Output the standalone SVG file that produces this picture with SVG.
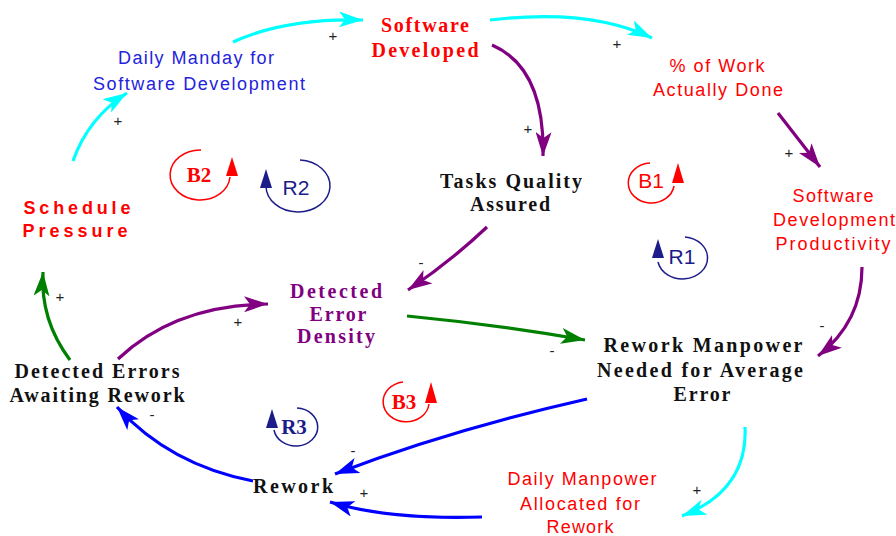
<svg xmlns="http://www.w3.org/2000/svg" width="896" height="536" viewBox="0 0 896 536">
<style>
.sr{font-family:"Liberation Serif","Times New Roman",serif;font-weight:bold;font-size:20px;text-anchor:middle}
.ss{font-family:"Liberation Sans",Arial,sans-serif;font-size:18px;text-anchor:middle}
.lb{font-size:21px}
.pol{font-family:"Liberation Sans",Arial,sans-serif;font-size:15px;text-anchor:middle;fill:#222}
.c{fill:none;stroke-width:3.2;stroke-linecap:butt}
.loop{fill:none;stroke-width:1.5}
</style>
<defs>
<marker id="aCy" markerUnits="userSpaceOnUse" markerWidth="26" markerHeight="16" refX="24" refY="8" orient="auto"><path d="M0,0 L24,8 L0,16 L6,8 Z" fill="#00FFFF"/></marker>
<marker id="aPu" markerUnits="userSpaceOnUse" markerWidth="26" markerHeight="16" refX="24" refY="8" orient="auto"><path d="M0,0 L24,8 L0,16 L6,8 Z" fill="#800080"/></marker>
<marker id="aGr" markerUnits="userSpaceOnUse" markerWidth="26" markerHeight="16" refX="24" refY="8" orient="auto"><path d="M0,0 L24,8 L0,16 L6,8 Z" fill="#008000"/></marker>
<marker id="aBl" markerUnits="userSpaceOnUse" markerWidth="26" markerHeight="16" refX="24" refY="8" orient="auto"><path d="M0,0 L24,8 L0,16 L6,8 Z" fill="#0000FF"/></marker>
</defs>
<rect width="896" height="536" fill="#ffffff"/>

<g id="connectors">
<path class="c" stroke="#00FFFF" marker-end="url(#aCy)" d="M73,161 Q88,118 127,93"/>
<path class="c" stroke="#00FFFF" marker-end="url(#aCy)" d="M233,42 Q285,18 363,20"/>
<path class="c" stroke="#00FFFF" marker-end="url(#aCy)" d="M490,20 Q590,8 652,38"/>
<path class="c" stroke="#800080" marker-end="url(#aPu)" d="M492,45 Q545,68 543,156"/>
<path class="c" stroke="#800080" marker-end="url(#aPu)" d="M778,113 L820,167"/>
<path class="c" stroke="#800080" marker-end="url(#aPu)" d="M862,267 Q862,322 818,356"/>
<path class="c" stroke="#800080" marker-end="url(#aPu)" d="M487,227 Q450,262 408,290"/>
<path class="c" stroke="#008000" marker-end="url(#aGr)" d="M407,316 Q500,325 585,340"/>
<path class="c" stroke="#0000FF" marker-end="url(#aBl)" d="M587,399 Q450,430 335,474"/>
<path class="c" stroke="#0000FF" marker-end="url(#aBl)" d="M482,517 Q390,520 330,502"/>
<path class="c" stroke="#00FFFF" marker-end="url(#aCy)" d="M745,427 Q748,490 682,516"/>
<path class="c" stroke="#0000FF" marker-end="url(#aBl)" d="M253,481 Q170,465 117,407"/>
<path class="c" stroke="#008000" marker-end="url(#aGr)" d="M70,360 Q40,320 43,272"/>
<path class="c" stroke="#800080" marker-end="url(#aPu)" d="M118,359 Q175,305 268,304"/>
<text class="pol" x="118" y="126">+</text>
<text class="pol" x="333" y="41">+</text>
<text class="pol" x="617" y="49">+</text>
<text class="pol" x="528" y="134">+</text>
<text class="pol" x="789" y="158">+</text>
<text class="pol" x="822" y="331">-</text>
<text class="pol" x="421" y="268">-</text>
<text class="pol" x="552" y="356">-</text>
<text class="pol" x="353" y="456">-</text>
<text class="pol" x="364" y="498">+</text>
<text class="pol" x="697" y="495">+</text>
<text class="pol" x="152" y="420">-</text>
<text class="pol" x="60" y="302">+</text>
<text class="pol" x="238" y="327">+</text>
</g>

<g id="software-developed"><text class="sr" fill="#FF0000"><tspan x="425" y="32" textLength="88" lengthAdjust="spacing">Software</tspan><tspan x="425" y="57" textLength="107" lengthAdjust="spacing">Developed</tspan></text></g>
<g id="daily-manday"><text class="ss" fill="#2323DD"><tspan x="196" y="64" textLength="156" lengthAdjust="spacing">Daily Manday for</tspan><tspan x="199" y="90" textLength="212" lengthAdjust="spacing">Software Development</tspan></text></g>
<g id="work-done"><text class="ss" fill="#FF0000"><tspan x="717" y="72" textLength="95" lengthAdjust="spacing">% of Work</tspan><tspan x="718" y="96" textLength="130" lengthAdjust="spacing">Actually Done</tspan></text></g>
<g id="tasks-quality"><text class="sr" fill="#111"><tspan x="511" y="188" textLength="142" lengthAdjust="spacing">Tasks Quality</tspan><tspan x="510" y="211" textLength="80" lengthAdjust="spacing">Assured</tspan></text></g>
<g id="productivity"><text class="ss" fill="#FF0000"><tspan x="833" y="202" textLength="81" lengthAdjust="spacing">Software</tspan><tspan x="834" y="226" textLength="122" lengthAdjust="spacing">Development</tspan><tspan x="833" y="250" textLength="115" lengthAdjust="spacing">Productivity</tspan></text></g>
<g id="schedule-pressure"><text class="ss" fill="#FF0000" font-weight="bold" font-size="21"><tspan x="77" y="214" textLength="107" lengthAdjust="spacing">Schedule</tspan><tspan x="75" y="237" textLength="105" lengthAdjust="spacing">Pressure</tspan></text></g>
<g id="error-density"><text class="sr" fill="#800080"><tspan x="336" y="298" textLength="92" lengthAdjust="spacing">Detected</tspan><tspan x="338" y="321" textLength="57" lengthAdjust="spacing">Error</tspan><tspan x="336" y="343" textLength="78" lengthAdjust="spacing">Density</tspan></text></g>
<g id="errors-awaiting"><text class="sr" fill="#111"><tspan x="97" y="378" textLength="165" lengthAdjust="spacing">Detected Errors</tspan><tspan x="97" y="402" textLength="175" lengthAdjust="spacing">Awaiting Rework</tspan></text></g>
<g id="rework-manpower"><text class="sr" fill="#111"><tspan x="703" y="352" textLength="199" lengthAdjust="spacing">Rework Manpower</tspan><tspan x="700" y="377" textLength="206" lengthAdjust="spacing">Needed for Average</tspan><tspan x="702" y="401" textLength="57" lengthAdjust="spacing">Error</tspan></text></g>
<g id="rework"><text class="sr" fill="#111" x="293" y="493" textLength="80" lengthAdjust="spacing">Rework</text></g>
<g id="daily-manpower"><text class="ss" fill="#FF0000"><tspan x="582" y="485" textLength="149" lengthAdjust="spacing">Daily Manpower</tspan><tspan x="580" y="510" textLength="120" lengthAdjust="spacing">Allocated for</tspan><tspan x="580" y="533" textLength="67" lengthAdjust="spacing">Rework</tspan></text></g>

<g id="loop-B2">
<path class="loop" stroke="#FF0000" d="M201,150 A30,25 0 1 0 230,177"/>
<path d="M232,157 L238,176 L226,176 Z" fill="#FF0000"/>
<text class="sr lb" fill="#FF0000" x="199" y="182">B2</text>
</g>
<g id="loop-R2">
<path class="loop" stroke="#1C1C8A" d="M300,160 A32,26 0 1 1 266,186"/>
<path d="M266,169 L272,188 L260,188 Z" fill="#1C1C8A"/>
<text class="ss lb" fill="#1C1C8A" x="296" y="195">R2</text>
</g>
<g id="loop-B1">
<path class="loop" stroke="#FF0000" d="M650,163 A23,20 0 1 0 674,186"/>
<path d="M678,163 L684,183 L672,183 Z" fill="#FF0000"/>
<text class="ss lb" fill="#FF0000" x="651" y="188">B1</text>
</g>
<g id="loop-R1">
<path class="loop" stroke="#1C1C8A" d="M685,237 A25,21 0 1 1 658,262"/>
<path d="M658,239 L664,258 L652,258 Z" fill="#1C1C8A"/>
<text class="ss lb" fill="#1C1C8A" x="682" y="264">R1</text>
</g>
<g id="loop-R3">
<path class="loop" stroke="#1C1C8A" d="M297,408 A22,19 0 1 1 274,430"/>
<path d="M272,409 L278,428 L266,428 Z" fill="#1C1C8A"/>
<text class="sr lb" fill="#1C1C8A" x="294" y="434">R3</text>
</g>
<g id="loop-B3">
<path class="loop" stroke="#FF0000" d="M403,382 A23,20 0 1 0 429,404"/>
<path d="M431,382 L437,403 L425,403 Z" fill="#FF0000"/>
<text class="sr lb" fill="#FF0000" x="404" y="409">B3</text>
</g>
</svg>
